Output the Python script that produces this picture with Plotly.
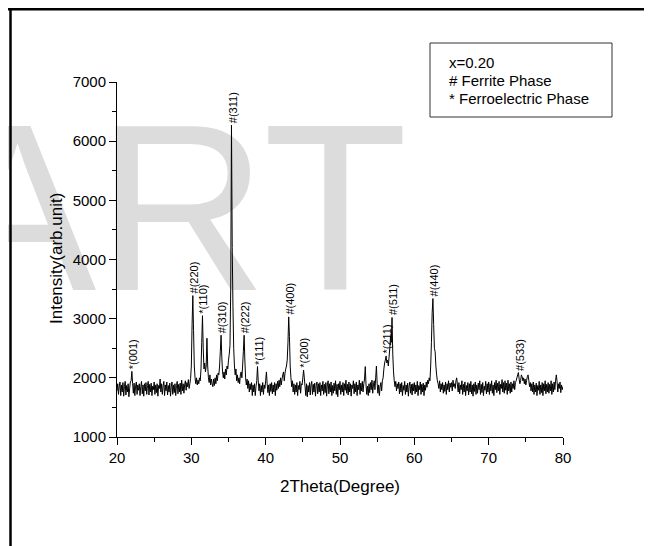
import plotly.graph_objects as go

# ---- data ----
two_theta_start = 20.0
two_theta_step = 0.1
intensity = [
    1780, 1900, 1720, 1850, 1930, 1700, 1880, 1760, 1920, 1690,  # 20
    1850, 1940, 1710, 1870, 1760, 1900, 1680, 1820, 1930, 1950,  # 21
    2110, 1900, 1740, 1910, 1700, 1860, 1930, 1720, 1880, 1790,  # 22
    1900, 1700, 1850, 1940, 1730, 1880, 1690, 1900, 1780, 1920,  # 23
    1720, 1870, 1940, 1710, 1890, 1760, 1910, 1700, 1860, 1800,  # 24
    1930, 1720, 1880, 1750, 1900, 1690, 1870, 1820, 1980, 1760,  # 25
    1900, 1720, 1860, 1940, 1700, 1880, 1780, 1930, 1710, 1870,  # 26
    1760, 1910, 1690, 1850, 1930, 1720, 1880, 1750, 1900, 1700,  # 27
    1870, 1940, 1730, 1890, 1760, 1910, 1720, 1960, 1780, 1900,  # 28
    1740, 1880, 1950, 1790, 1920, 1850, 1970, 1820, 1900, 1990,  # 29
    2200, 2900, 3390, 2800, 2200, 2000, 1900, 2000, 1880, 1960,  # 30
    1900, 2000, 1950, 2150, 2600, 3050, 2500, 2150, 2250, 2100,  # 31
    2200, 2670, 2200, 2000, 1920, 2050, 1880, 1980, 1900, 1850,  # 32
    1980, 1870, 2000, 1900, 2050, 1950, 2080, 2050, 2200, 2450,  # 33
    2720, 2350, 2100, 2000, 2100, 1980, 2150, 2050, 2200, 2150,  # 34
    2300, 2400, 2550, 3500, 6270, 4200, 3200, 2500, 2200, 2050,  # 35
    2150, 1950, 2050, 1920, 2000, 1900, 2050, 2100, 2000, 2200,  # 36
    2450, 2720, 2300, 2000, 1880, 1980, 1820, 1950, 1760, 1900,  # 37
    1800, 1920, 1700, 1880, 1760, 1900, 1700, 1850, 1950, 2190,  # 38
    1950, 1780, 1900, 1700, 1870, 1760, 1920, 1720, 1880, 1820,  # 39
    1950, 2100, 1900, 1750, 1880, 1700, 1900, 1770, 1920, 1730,  # 40
    1880, 1760, 1920, 1700, 1900, 1790, 1940, 1820, 1960, 1850,  # 41
    2000, 1880, 1980, 2050, 2100, 1950, 2080, 2150, 2200, 2300,  # 42
    2600, 3030, 2700, 2200, 2000, 1850, 1950, 1760, 1900, 1720,  # 43
    1880, 1760, 1920, 1700, 1870, 1800, 1940, 1740, 1900, 1880,  # 44
    2000, 2130, 2000, 1850, 1700, 1900, 1680, 1870, 1760, 1920,  # 45
    1710, 1880, 1940, 1720, 1890, 1760, 1910, 1690, 1870, 1930,  # 46
    1730, 1900, 1760, 1920, 1700, 1880, 1780, 1940, 1720, 1890,  # 47
    1750, 1920, 1690, 1880, 1950, 1730, 1900, 1760, 1930, 1700,  # 48
    1870, 1740, 1910, 1780, 1950, 1720, 1890, 1680, 1900, 1800,  # 49
    1940, 1720, 1880, 1760, 1920, 1700, 1900, 1790, 1960, 1740,  # 50
    1890, 1710, 1930, 1760, 1900, 1690, 1880, 1820, 1950, 1730,  # 51
    1900, 1760, 1930, 1700, 1880, 1800, 1960, 1720, 1910, 1780,  # 52
    1940, 1760, 1900, 1980, 2190, 1880, 1720, 1860, 1700, 1900,  # 53
    1750, 1920, 1800, 1960, 1740, 1880, 1950, 1800, 2000, 2200,  # 54
    1900, 1740, 1880, 1700, 1850, 1920, 1780, 1950, 2000, 2150,  # 55
    2250, 2300, 2370, 2250, 2300, 2200, 2350, 2500, 2700, 2600,  # 56
    3020, 2400, 2100, 1950, 1850, 1940, 1780, 1900, 1820, 1930,  # 57
    1730, 1900, 1760, 1920, 1700, 1870, 1790, 1940, 1720, 1880,  # 58
    1760, 1910, 1690, 1860, 1930, 1740, 1890, 1710, 1900, 1780,  # 59
    1920, 1730, 1880, 1760, 1940, 1700, 1870, 1800, 1930, 1720,  # 60
    1890, 1760, 1910, 1700, 1880, 1790, 1930, 1840, 1960, 1900,  # 61
    2000, 1950, 2200, 2600, 3100, 3340, 2900, 2500, 2440, 2200,  # 62
    2050, 1950, 1900, 1820, 1950, 1760, 1900, 1800, 1920, 1740,  # 63
    1880, 1770, 1930, 1720, 1900, 1800, 1950, 1760, 1910, 1840,  # 64
    1920, 1780, 1960, 1850, 1900, 1820, 1950, 2000, 1880, 1760,  # 65
    1920, 1730, 1880, 1800, 1950, 1720, 1890, 1760, 1930, 1700,  # 66
    1870, 1780, 1920, 1710, 1900, 1760, 1940, 1730, 1880, 1690,  # 67
    1900, 1770, 1930, 1720, 1880, 1740, 1910, 1800, 1950, 1720,  # 68
    1890, 1750, 1920, 1700, 1860, 1790, 1940, 1730, 1900, 1760,  # 69
    1930, 1720, 1900, 1780, 1950, 1740, 1880, 1700, 1920, 1800,  # 70
    1960, 1750, 1910, 1780, 1940, 1720, 1890, 1820, 1970, 1760,  # 71
    1920, 1740, 1950, 1790, 1910, 1720, 1960, 1780, 1900, 1740,  # 72
    1930, 1760, 1900, 1820, 1950, 1800, 1920, 1950, 2000, 2050,  # 73
    2090, 1980, 1900, 1950, 2050, 2020, 1950, 2000, 1900, 1980,  # 74
    1880, 1950, 2020, 2050, 1960, 1850, 1920, 1780, 1900, 1760,  # 75
    1930, 1720, 1880, 1760, 1910, 1700, 1870, 1790, 1940, 1720,  # 76
    1880, 1750, 1920, 1700, 1900, 1780, 1950, 1730, 1890, 1760,  # 77
    1920, 1740, 1890, 1780, 1950, 1720, 1900, 1760, 1930, 1800,  # 78
    1950, 2050, 1940, 1760, 1900, 1820, 1930, 1750, 1880, 1800,  # 79
    1850,                                                        # 80
]
two_theta = [round(two_theta_start + two_theta_step * i, 1) for i in range(len(intensity))]

peak_angles = [22.0, 30.2, 31.5, 34.0, 35.4, 37.1, 38.9, 43.1, 45.1, 56.2, 57.0, 62.5, 74.0]
peak_labels = ["*(001)", "#(220)", "*(110)", "#(310)", "#(311)", "#(222)", "*(111)",
               "#(400)", "*(200)", "*(211)", "#(511)", "#(440)", "#(533)"]

legend_lines = ["x=0.20", "# Ferrite Phase", "* Ferroelectric Phase"]
x_title = "2Theta(Degree)"
y_title = "Intensity(arb.unit)"
watermark = "ART"

# ---- layout geometry ----
# the page adds an 8px body margin, so the figure is made 8px smaller and
# page positions are converted to figure positions
OFF = 8
W, H = 652 - OFF, 546 - OFF
L, T = 117 - OFF, 82 - OFF
R = W - (563 - OFF)
B = H - (437 - OFF)
PW, PH = W - L - R, H - T - B


def px(x):  # page pixel x -> paper fraction
    return (x - OFF - L) / PW


def py(y):  # page pixel y -> paper fraction
    return (H - B - (y - OFF)) / PH


FONT = "Arial, Liberation Sans, Helvetica, sans-serif"

fig = go.Figure()
fig.add_trace(go.Scatter(
    x=two_theta, y=intensity, mode="lines",
    line=dict(color="black", width=1, simplify=False),
    showlegend=False, hoverinfo="skip",
))

annotations = []
for ang, lab in zip(peak_angles, peak_labels):
    idx = two_theta.index(ang)
    annotations.append(dict(
        x=ang, y=intensity[idx], xref="x", yref="y", text=lab,
        textangle=-90, showarrow=False, xanchor="center", yanchor="bottom",
        xshift=1, font=dict(family=FONT, size=11, color="black"),
    ))

for line, ycen in zip(legend_lines, [62, 80, 98]):
    annotations.append(dict(
        x=px(447), y=py(ycen), xref="paper", yref="paper", text=line,
        showarrow=False, xanchor="left", yanchor="middle",
        font=dict(family=FONT, size=15, color="black"),
    ))

annotations.append(dict(
    x=px(340), y=py(486), xref="paper", yref="paper", text=x_title,
    showarrow=False, xanchor="center", yanchor="middle",
    font=dict(family=FONT, size=17, color="black"),
))
annotations.append(dict(
    x=px(56), y=py(259), xref="paper", yref="paper", text=y_title, textangle=-90,
    showarrow=False, xanchor="center", yanchor="middle",
    font=dict(family=FONT, size=17, color="black"),
))

shapes = [
    dict(type="rect", xref="paper", yref="paper",
         x0=px(-64), x1=px(410), y0=py(270), y1=py(100),
         line=dict(width=0), fillcolor="rgba(0,0,0,0)", layer="below",
         label=dict(text=watermark, textposition="middle center",
                    font=dict(family="Liberation Sans", size=237, color="#dcdcdc"))),
    dict(type="rect", xref="paper", yref="paper",
         x0=px(430), x1=px(612), y0=py(117), y1=py(43),
         line=dict(color="#333333", width=1), fillcolor="rgba(0,0,0,0)"),
    dict(type="line", xref="paper", yref="paper",
         x0=px(4), x1=px(652), y0=py(9), y1=py(9),
         line=dict(color="black", width=3)),
    dict(type="line", xref="paper", yref="paper",
         x0=px(10.5), x1=px(10.5), y0=py(10), y1=py(546),
         line=dict(color="black", width=2.5)),
    dict(type="line", xref="paper", yref="paper",
         x0=px(646.5), x1=px(646.5), y0=py(10), y1=py(546),
         line=dict(color="black", width=2.5)),
]

axis_common = dict(
    showline=True, linecolor="black", linewidth=1, showgrid=False, zeroline=False,
    ticks="outside", ticklen=7, tickwidth=1, tickcolor="black",
    tickfont=dict(family=FONT, size=15, color="black"),
)

fig.update_layout(
    width=W, height=H,
    margin=dict(l=L, r=R, t=T, b=B, pad=0),
    paper_bgcolor="white", plot_bgcolor="rgba(0,0,0,0)",
    showlegend=False,
    xaxis=dict(range=[20, 80], dtick=10, tick0=0,
               minor=dict(dtick=5, ticks="outside", ticklen=4, tickcolor="black", showgrid=False),
               **axis_common),
    yaxis=dict(range=[1000, 7000], dtick=1000, tick0=0,
               minor=dict(dtick=500, ticks="outside", ticklen=4, tickcolor="black", showgrid=False),
               **axis_common),
    annotations=annotations,
    shapes=shapes,
)

fig.write_html("out.html")
